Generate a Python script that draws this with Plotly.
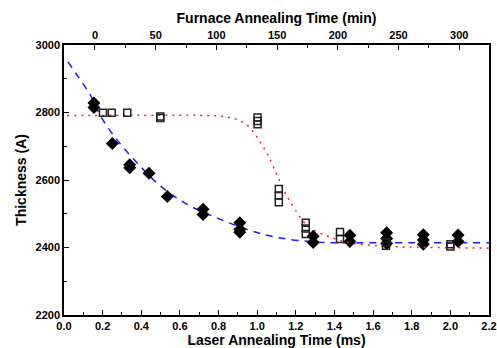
import plotly.graph_objects as go

# Laser annealing data (bottom axis, ms) - filled diamonds
laser_time = [0.155, 0.155, 0.25, 0.34, 0.34, 0.44, 0.535, 0.72, 0.72, 0.91, 0.91, 0.91,
              1.29, 1.29, 1.48, 1.48, 1.67, 1.67, 1.67, 1.86, 1.86, 1.86, 2.04, 2.04]
laser_thick = [2815, 2828, 2708, 2636, 2645, 2620, 2551, 2513, 2498, 2473, 2453, 2445,
               2433, 2415, 2436, 2418, 2444, 2427, 2412, 2438, 2422, 2410, 2437, 2418]

# Furnace annealing data (top axis, min) - open squares
furnace_time = [6.6, 13.8, 26.6, 53.8, 53.8, 133.9, 133.9, 133.9, 151.4, 151.4, 151.4,
                173.6, 173.6, 173.6, 201.8, 201.8, 239.7, 239.7, 292.7, 292.7]
furnace_thick = [2799, 2799, 2799, 2784, 2788, 2785, 2775, 2765, 2573, 2554, 2534,
                 2473, 2456, 2440, 2446, 2425, 2415, 2405, 2410, 2403]

# Fitted curve for laser data
laser_fit_x = [0.02, 0.07, 0.14, 0.19, 0.27, 0.36, 0.50, 0.64, 0.79, 0.95, 1.10, 1.31, 1.50, 1.80, 2.20]
laser_fit_y = [2950, 2909, 2848, 2789, 2722, 2662, 2582, 2527, 2488, 2453, 2430, 2416, 2414, 2414, 2414]

# Fitted curve for furnace data
furnace_fit_x = [-23, 92.8, 103.8, 109.3, 114.7, 120.3, 125.8, 130.7, 134.8, 138.1, 141.4, 144.2,
                 149.1, 151.6, 156.5, 159.8, 166.1, 170.3, 175.7, 186.2, 197.7, 210, 237.5, 265, 324.5]
furnace_fit_y = [2791, 2791, 2789, 2786, 2782, 2774, 2761, 2741, 2720, 2700, 2681, 2661,
                 2621, 2601, 2562, 2542, 2505, 2483, 2463, 2441, 2426, 2414, 2404, 2401, 2398]

FONT = "Liberation Sans, Arial, sans-serif"

fig = go.Figure()
fig.add_trace(go.Scatter(x=laser_fit_x, y=laser_fit_y, mode="lines", line_shape="spline",
                         line=dict(color="#1a1aff", width=1.5, dash="7px,6px"),
                         xaxis="x", yaxis="y", showlegend=False))
fig.add_trace(go.Scatter(x=furnace_fit_x, y=furnace_fit_y, mode="lines", line_shape="spline",
                         line=dict(color="#ff2020", width=1.5, dash="2px,5px"),
                         xaxis="x2", yaxis="y", showlegend=False))
fig.add_trace(go.Scatter(x=furnace_time, y=furnace_thick, mode="markers",
                         marker=dict(symbol="square-open", size=7, color="#222222",
                                     line=dict(width=1.5, color="#222222")),
                         xaxis="x2", yaxis="y", showlegend=False))
fig.add_trace(go.Scatter(x=laser_time, y=laser_thick, mode="markers",
                         marker=dict(symbol="diamond", size=10, color="black"),
                         xaxis="x", yaxis="y", showlegend=False))

tickfont = dict(family=FONT, size=11, color="black", weight="bold")
titlefont = dict(family=FONT, size=14, color="black", weight="bold")

fig.update_layout(
    width=497, height=348,
    margin=dict(l=64, r=8, t=45, b=33, autoexpand=False),
    paper_bgcolor="white", plot_bgcolor="white",
    xaxis=dict(range=[0, 2.2], tick0=0, dtick=0.2, tickformat=".1f", automargin=False,
               ticks="inside", ticklen=5, tickwidth=1.2, tickcolor="black",
               minor=dict(dtick=0.1, ticks="inside", ticklen=3, tickcolor="black"),
               showline=True, linecolor="black", linewidth=1.5, showgrid=False, zeroline=False,
               tickfont=tickfont,
               title=dict(text="Laser Annealing Time (ms)", font=titlefont, standoff=0)),
    xaxis2=dict(range=[-25.5, 324.5], tick0=0, dtick=50, overlaying="x", side="top", anchor="y",
                automargin=False,
                ticks="inside", ticklen=5, tickwidth=1.2, tickcolor="black",
                minor=dict(dtick=25, ticks="inside", ticklen=3, tickcolor="black"),
                showline=True, linecolor="black", linewidth=1.5, showgrid=False, zeroline=False,
                tickfont=tickfont,
                title=dict(text="Furnace Annealing Time (min)", font=titlefont, standoff=2)),
    yaxis=dict(range=[2200, 3000], tick0=2200, dtick=200, automargin=False,
               ticks="inside", ticklen=5, tickwidth=1.2, tickcolor="black",
               minor=dict(dtick=100, ticks="inside", ticklen=3, tickcolor="black"),
               showline=True, linecolor="black", linewidth=1.5, mirror=True,
               showgrid=False, zeroline=False, tickfont=tickfont,
               title=dict(text="Thickness (A)", font=titlefont, standoff=6)),
)

fig.write_html("out.html", config={"displayModeBar": False},
               post_script="document.body.style.margin='0';document.body.style.padding='0';")
